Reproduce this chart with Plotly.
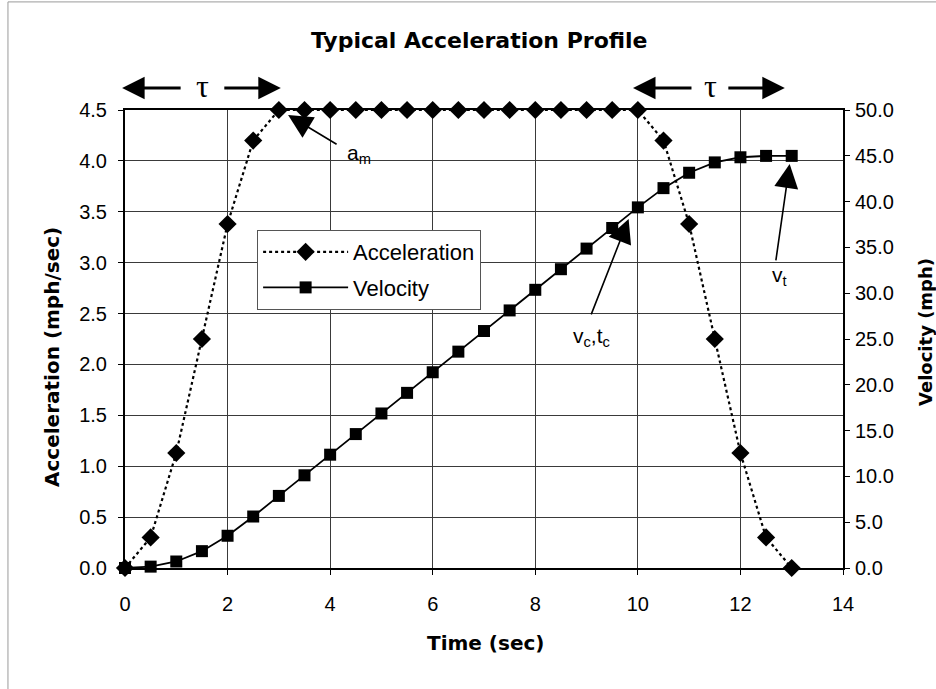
import plotly.graph_objects as go

# Time samples (sec)
time_s = [0, 0.5, 1, 1.5, 2, 2.5, 3, 3.5, 4, 4.5, 5, 5.5, 6, 6.5, 7, 7.5,
          8, 8.5, 9, 9.5, 10, 10.5, 11, 11.5, 12, 12.5, 13]

# Acceleration (mph/sec)
accel = [0.00, 0.30, 1.13, 2.25, 3.38, 4.20, 4.50, 4.50, 4.50, 4.50, 4.50,
         4.50, 4.50, 4.50, 4.50, 4.50, 4.50, 4.50, 4.50, 4.50, 4.50, 4.20,
         3.38, 2.25, 1.13, 0.30, 0.00]

# Velocity (mph)
velocity = [0.00, 0.15, 0.71, 1.84, 3.52, 5.62, 7.87, 10.12, 12.37, 14.62,
            16.87, 19.12, 21.37, 23.62, 25.87, 28.12, 30.37, 32.62, 34.87,
            37.12, 39.37, 41.47, 43.15, 44.28, 44.84, 44.99, 44.99]

x_ticks = [0, 2, 4, 6, 8, 10, 12, 14]
acc_ticks = [0.0, 0.5, 1.0, 1.5, 2.0, 2.5, 3.0, 3.5, 4.0, 4.5]
vel_ticks = [0, 5, 10, 15, 20, 25, 30, 35, 40, 45, 50]

FONT = "Liberation Sans, Arial, sans-serif"
BOLD = "DejaVu Sans, Liberation Sans, sans-serif"
GRID = "#3a3a3a"

fig = go.Figure()

fig.add_trace(go.Scatter(
    x=time_s, y=accel, name="Acceleration", mode="lines+markers",
    line=dict(color="black", width=2.2, dash="dot"),
    marker=dict(symbol="diamond", size=14, color="black"),
    yaxis="y", cliponaxis=False, legendgroup="a",
))
fig.add_trace(go.Scatter(
    x=time_s, y=velocity, name="Velocity", mode="lines+markers",
    line=dict(color="black", width=1.8),
    marker=dict(symbol="square", size=12, color="black"),
    yaxis="y2", cliponaxis=False, legendgroup="v",
))

axis_common = dict(
    showline=True, linecolor="black", linewidth=2,
    ticks="outside", ticklen=5, tickcolor="black",
    tickfont=dict(family=FONT, size=20, color="black"),
    showgrid=True, gridcolor=GRID, gridwidth=1, zeroline=False,
)

fig.update_layout(
    width=936, height=689,
    margin=dict(l=125, r=93, t=110, b=121),
    paper_bgcolor="white", plot_bgcolor="white",
    font=dict(family=FONT, color="black"),
    title=dict(text="<b>Typical Acceleration Profile</b>", x=0.512, xanchor="center",
               y=0.942, yanchor="middle",
               font=dict(family=BOLD, size=22, color="black")),
    xaxis=dict(range=[0, 14], tickvals=x_ticks, mirror=True, ticklabelstandoff=12,
               **axis_common),
    yaxis=dict(range=[0, 4.5], tickvals=acc_ticks, tickformat=".1f", ticklabelstandoff=7,
               **axis_common),
    yaxis2=dict(range=[0, 50], tickvals=vel_ticks, tickformat=".1f", overlaying="y",
                side="right", ticklabelstandoff=1,
                **{**axis_common, "showgrid": False}),
    legend=dict(
        x=0.184, y=0.738, xanchor="left", yanchor="top",
        bgcolor="white", bordercolor="#555", borderwidth=1,
        font=dict(family=FONT, size=22, color="black"),
        itemwidth=85, tracegroupgap=4,
    ),
    showlegend=True,
)

# Axis titles
title_font = dict(family=BOLD, color="black")
fig.add_annotation(xref="paper", yref="paper", x=(52 - 125) / 718, y=(568 - 357) / 458,
                   text="<b>Acceleration (mph/sec)</b>", textangle=-90, showarrow=False,
                   xanchor="center", yanchor="middle", font=dict(size=20, **title_font))
fig.add_annotation(xref="paper", yref="paper", x=(925 - 125) / 718, y=(568 - 332) / 458,
                   text="<b>Velocity (mph)</b>", textangle=-90, showarrow=False,
                   xanchor="center", yanchor="middle", font=dict(size=18, **title_font))
fig.add_annotation(xref="paper", yref="paper", x=(486 - 125) / 718, y=(568 - 643) / 458,
                   text="<b>Time (sec)</b>", showarrow=False,
                   xanchor="center", yanchor="middle", font=dict(size=20, **title_font))

# Thin chart-area frame along the left and top edges
fig.add_shape(type="line", xref="paper", yref="paper", x0=-0.163, x1=-0.163, y0=-0.3, y1=1.236,
              line=dict(color="#9a9a9a", width=1))
fig.add_shape(type="line", xref="paper", yref="paper", x0=-0.163, x1=1.2, y0=1.236, y1=1.236,
              line=dict(color="#9a9a9a", width=1))

arrow = dict(showarrow=True, arrowhead=2, arrowcolor="black", xref="x", yref="y",
             axref="pixel", ayref="pixel", text="")
label_font = dict(family=FONT, size=21, color="black")

# Pointer arrows with their labels
fig.add_annotation(x=3.18, y=4.45, ax=50, ay=30, arrowwidth=1.6, arrowsize=3, **arrow)
fig.add_annotation(x=4.57, y=4.07, text="a<sub>m</sub>", showarrow=False, font=label_font)

fig.add_annotation(x=9.82, y=3.43, ax=-38, ay=97, arrowwidth=1.6, arrowsize=3, **arrow)
fig.add_annotation(x=9.1, y=2.27, text="v<sub>c</sub>,t<sub>c</sub>", showarrow=False,
                   font=label_font)

fig.add_annotation(x=12.96, y=3.97, ax=-14, ay=98, arrowwidth=1.6, arrowsize=3, **arrow)
fig.add_annotation(x=12.76, y=2.87, text="v<sub>t</sub>", showarrow=False, font=label_font)

# Ramp-duration markers above the plot (paper coords, 3 s wide)
TAU_Y = 1.048
tau_arrow = dict(showarrow=True, arrowhead=2, arrowcolor="black", arrowwidth=3,
                 arrowsize=1.5, xref="paper", yref="paper", axref="pixel", ayref="pixel",
                 ay=0, text="")
for tip, ax in [(-0.004, 60), (0.217, -58), (0.7075, 60), (0.919, -58)]:
    fig.add_annotation(x=tip, y=TAU_Y, ax=ax, **tau_arrow)
for cx in [0.1086, 0.8148]:
    fig.add_annotation(x=cx, y=TAU_Y + 0.004, xref="paper", yref="paper", text="\u03c4",
                       showarrow=False, xanchor="center", yanchor="middle",
                       font=dict(family="Liberation Serif, DejaVu Serif, serif", size=32, color="black"))

fig.write_html("out.html")
